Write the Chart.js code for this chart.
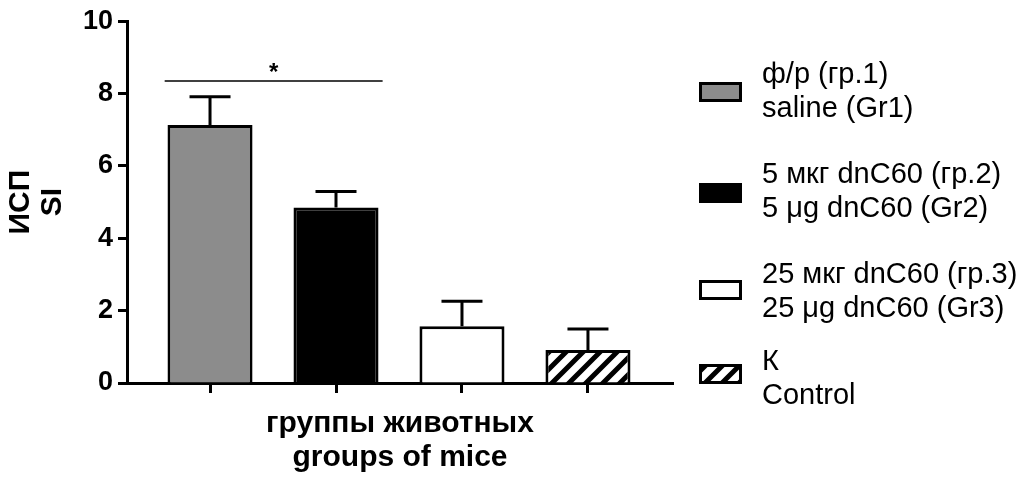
<!DOCTYPE html>
<html>
<head>
<meta charset="utf-8">
<script src="https://cdn.jsdelivr.net/npm/chart.js@4"></script>
<style>
    html, body { margin: 0; padding: 0; background: #fff; }
    #wrap { width: 1030px; height: 480px; }
</style>
</head>
<body>
<div id="wrap"><canvas id="graph" width="1030" height="480"></canvas></div>
<script>
// данные: индекс стимуляции (SI) по группам
const groups = ['гр.1', 'гр.2', 'гр.3', 'К'];
const siMean = [7.13, 4.85, 1.57, 0.91];
const siSem = [0.78, 0.44, 0.69, 0.58];
const yTicks = [0, 2, 4, 6, 8, 10];
const legendRu = ['ф/р (гр.1)', '5 мкг dnC60 (гр.2)', '25 мкг dnC60 (гр.3)', 'К'];
const legendEn = ['saline (Gr1)', '5 μg dnC60 (Gr2)', '25 μg dnC60 (Gr3)', 'Control'];
const yTitle = ['ИСП', 'SI'];
const xTitle = ['группы животных', 'groups of mice'];
const sigFrom = 0.64;
const sigTo = 2.37;
const sigLevel = 8.35;
const sigMark = '*';

const FONT = '"Liberation Sans", Arial, sans-serif';
Chart.defaults.font.family = FONT;
Chart.defaults.color = '#000';

function makeHatch() {
    const size = 17;
    const c = document.createElement('canvas');
    c.width = size;
    c.height = size;
    const g = c.getContext('2d');
    g.fillStyle = '#fff';
    g.fillRect(0, 0, size, size);
    g.strokeStyle = '#000';
    g.lineWidth = 5;
    g.beginPath();
    g.moveTo(-4, 4); g.lineTo(4, -4);
    g.moveTo(0, size); g.lineTo(size, 0);
    g.moveTo(size - 4, size + 4); g.lineTo(size + 4, size - 4);
    g.stroke();
    return g.createPattern(c, 'repeat');
}

const graph = document.getElementById('graph');
const hatch = makeHatch();
const fills = ['#8c8c8c', '#000000', '#ffffff', hatch];

// планки ошибок (только вверх)
const errorBars = {
    id: 'errorBars',
    afterDatasetsDraw(chart) {
        const ctx = chart.ctx;
        const y = chart.scales.y;
        const meta = chart.getDatasetMeta(0);
        ctx.save();
        ctx.strokeStyle = '#000';
        ctx.lineWidth = 3;
        meta.data.forEach((bar, i) => {
            const top = y.getPixelForValue(siMean[i] + siSem[i]);
            ctx.beginPath();
            ctx.moveTo(bar.x, bar.y);
            ctx.lineTo(bar.x, top);
            ctx.moveTo(bar.x - 20.5, top);
            ctx.lineTo(bar.x + 20.5, top);
            ctx.stroke();
        });
        ctx.restore();
    }
};

// линия значимости со звёздочкой
const sigLine = {
    id: 'sigLine',
    afterDatasetsDraw(chart) {
        const ctx = chart.ctx;
        const x = chart.scales.x;
        const y = chart.scales.y;
        const py = y.getPixelForValue(sigLevel);
        ctx.save();
        ctx.strokeStyle = '#000';
        ctx.lineWidth = 1.5;
        ctx.beginPath();
        ctx.moveTo(x.getPixelForValue(sigFrom), py);
        ctx.lineTo(x.getPixelForValue(sigTo), py);
        ctx.stroke();
        ctx.fillStyle = '#000';
        ctx.font = 'bold 24px ' + FONT;
        ctx.textAlign = 'center';
        ctx.textBaseline = 'alphabetic';
        ctx.fillText(sigMark, x.getPixelForValue((sigFrom + sigTo) / 2), py - 1);
        ctx.restore();
    }
};

// легенда справа, по две строки на группу
const sideLegend = {
    id: 'sideLegend',
    afterDraw(chart) {
        const ctx = chart.ctx;
        const baselines = [83, 183, 283, 370];
        const boxMid = [92, 193, 290, 374];
        ctx.save();
        ctx.font = '29px ' + FONT;
        ctx.textAlign = 'left';
        ctx.textBaseline = 'alphabetic';
        legendRu.forEach((ru, i) => {
            const top = boxMid[i] - 10;
            ctx.fillStyle = fills[i];
            ctx.fillRect(699, top, 43, 20);
            ctx.strokeStyle = '#000';
            ctx.lineWidth = 3;
            ctx.strokeRect(700.5, top + 1.5, 40, 17);
            ctx.fillStyle = '#000';
            ctx.fillText(ru, 762, baselines[i]);
            ctx.fillText(legendEn[i], 762, baselines[i] + 34);
        });
        ctx.restore();
    }
};

new Chart(graph, {
    type: 'bar',
    data: {
        datasets: [{
            label: 'SI',
            data: groups.map((g, i) => ({ x: i + 1, y: siMean[i] })),
            backgroundColor: fills,
            borderColor: '#000',
            borderWidth: 3,
            borderSkipped: 'bottom',
            barPercentage: 0.675,
            categoryPercentage: 1
        }]
    },
    options: {
        responsive: false,
        animation: false,
        layout: { padding: { top: 20, right: 357, left: 0, bottom: 0 } },
        plugins: {
            legend: { display: false },
            tooltip: { enabled: false }
        },
        scales: {
            x: {
                type: 'linear',
                offset: false,
                min: 0.341,
                max: 4.675,
                afterBuildTicks: scale => {
                    scale.ticks = groups.map((g, i) => ({ value: i + 1 }));
                },
                afterFit: scale => { scale.height = 97; },
                ticks: { callback: () => '', autoSkip: false },
                grid: {
                    offset: false,
                    drawOnChartArea: false,
                    tickLength: 10,
                    tickWidth: 3,
                    tickColor: '#000'
                },
                border: { color: '#000', width: 3 },
                title: {
                    display: true,
                    text: xTitle,
                    font: { size: 30, weight: 'bold', lineHeight: 1.13 },
                    padding: { top: 0, bottom: 5 }
                }
            },
            y: {
                min: 0,
                max: 10,
                afterBuildTicks: scale => {
                    scale.ticks = yTicks.map(v => ({ value: v }));
                },
                afterFit: scale => { scale.width = 127; },
                ticks: {
                    font: { size: 27, weight: 'bold' },
                    padding: 5
                },
                grid: {
                    drawOnChartArea: false,
                    tickLength: 9,
                    tickWidth: 3,
                    tickColor: '#000'
                },
                border: { color: '#000', width: 3 },
                title: {
                    display: true,
                    text: yTitle,
                    font: { size: 30, weight: 'bold', lineHeight: 1.07 },
                    padding: { top: 5, bottom: 0 }
                }
            }
        }
    },
    plugins: [errorBars, sigLine, sideLegend]
});
</script>
</body>
</html>
